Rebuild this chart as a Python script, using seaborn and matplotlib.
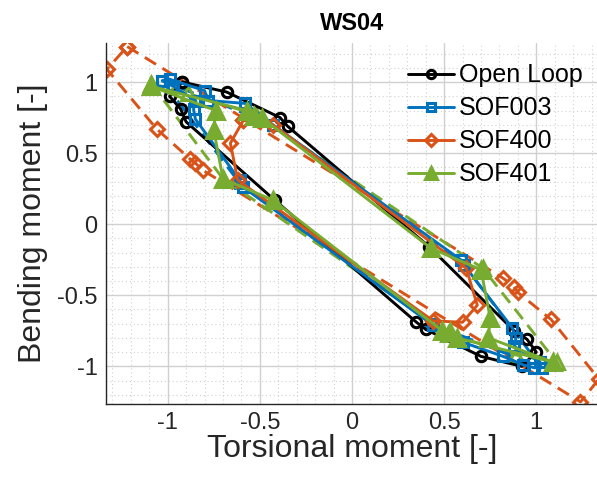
import numpy as np
import pandas as pd
import matplotlib
matplotlib.use("Agg")
import matplotlib.pyplot as plt
import seaborn as sns
from matplotlib.ticker import MultipleLocator

# ---------------- data ----------------
# Open Loop (black, solid, circles)
OL_X = [-0.92, -0.68, -0.39, -0.35, 0.42, 0.88, 0.95, 1.00, 0.92, 0.70, 0.40, 0.35, -0.42, -0.90, -0.93, -0.99, -0.92]
OL_Y = [1.00, 0.93, 0.75, 0.69, -0.16, -0.75, -0.81, -0.90, -1.00, -0.93, -0.74, -0.69, 0.17, 0.72, 0.81, 0.90, 1.00]

# SOF003 (blue, solid, squares)
B_X = [-0.99, -0.80, -0.78, -0.58, -0.43, 0.59, 0.61, 0.87, 0.89, 0.88, 1.02, 0.99, 0.93, 0.82, 0.60, 0.44,
       -0.59, -0.61, -0.85, -0.86, -0.85, -0.97, -1.03, -0.99]
B_Y = [1.02, 0.94, 0.87, 0.85, 0.70, -0.25, -0.29, -0.73, -0.80, -0.86, -0.97, -1.01, -0.99, -0.93, -0.83, -0.71,
       0.26, 0.31, 0.74, 0.81, 0.87, 0.97, 1.01, 1.02]
# SOF003 dashed
BD_X = [-1.03, -0.43, 0.61, 1.03, 0.43, -0.61, -1.03]
BD_Y = [1.01, 0.70, -0.29, -1.01, -0.70, 0.29, 1.01]

# SOF400 (orange, solid, diamonds)
O_X = [-0.59, -0.43, 0.62, 0.68, 0.60, 0.44, -0.62, -0.66, -0.59]
O_Y = [0.73, 0.70, -0.31, -0.57, -0.69, -0.68, 0.31, 0.57, 0.73]
# SOF400 dashed
OD_X = [-1.22, 0.82, 0.88, 0.90, 1.08, 1.34, 1.24, -0.81, -0.85, -0.88, -1.06, -1.33, -1.22]
OD_Y = [1.25, -0.38, -0.44, -0.48, -0.67, -1.09, -1.25, 0.38, 0.43, 0.46, 0.67, 1.09, 1.25]

# SOF401 (green, solid, triangles)
G_X = [-1.09, -0.57, -0.53, -0.49, 0.43, 0.70, 0.75, 0.74, 1.09, 0.57, 0.53, 0.49, -0.43, -0.70, -0.75, -0.74, -1.09]
G_Y = [0.97, 0.80, 0.76, 0.75, -0.17, -0.32, -0.66, -0.80, -0.97, -0.80, -0.76, -0.75, 0.17, 0.32, 0.66, 0.80, 0.97]
# SOF401 dashed
GD_X = [-1.09, -0.89, -0.52, 0.71, 1.11, 0.89, 0.52, -0.70, -1.09]
GD_Y = [0.99, 0.92, 0.77, -0.31, -0.97, -0.92, -0.77, 0.32, 0.99]

LABELS = ["Open Loop", "SOF003", "SOF400", "SOF401"]
TITLE = "WS04"
XLABEL = "Torsional moment [-]"
YLABEL = "Bending moment [-]"

# ---------------- style ----------------
sns.set_theme(style="white")
plt.rcParams["font.family"] = ["Liberation Sans", "DejaVu Sans"]
plt.rcParams["axes.unicode_minus"] = False

C_K = "#000000"
C_B = "#0072BD"
C_O = "#D95319"
C_G = "#77AC30"

fig = plt.figure(figsize=(5.97, 4.88), dpi=100)
ax = fig.add_axes([106 / 597, 84 / 488, 492 / 597, 361 / 488])

LW = 2.1
MEW = 2.2
DASH = (4.5, 2.6)

def dashed(x, y, color, marker, ms):
    sns.lineplot(x=x, y=y, sort=False, estimator=None, ax=ax, color=color, lw=LW,
                 marker=marker, markersize=ms, markerfacecolor="none",
                 markeredgecolor=color, markeredgewidth=MEW, legend=False)
    ax.lines[-1].set_dashes(DASH)

def solid(x, y, color, marker, ms, label, filled=False):
    sns.lineplot(x=x, y=y, sort=False, estimator=None, ax=ax, color=color, lw=LW,
                 marker=marker, markersize=ms,
                 markerfacecolor=(color if filled else "none"),
                 markeredgecolor=color, markeredgewidth=MEW, legend=False)
    ln = ax.lines[-1]
    ln.set_label(label)
    return ln

dashed(BD_X, BD_Y, C_B, "s", 7.5)
dashed(OD_X, OD_Y, C_O, "D", 7.5)
dashed(GD_X, GD_Y, C_G, "^", 10)

h1 = solid(OL_X, OL_Y, C_K, "o", 7.5, LABELS[0])
h2 = solid(B_X, B_Y, C_B, "s", 7.5, LABELS[1])
h3 = solid(O_X, O_Y, C_O, "D", 7.5, LABELS[2])
h4 = solid(G_X, G_Y, C_G, "^", 11, LABELS[3], filled=True)

ax.set_xlim(-1.335, 1.335)
ax.set_ylim(-1.265, 1.275)
ax.xaxis.set_minor_locator(MultipleLocator(0.1))
ax.yaxis.set_minor_locator(MultipleLocator(0.1))
ax.set_xticks([-1, -0.5, 0, 0.5, 1])
ax.set_xticklabels(["-1", "-0.5", "0", "0.5", "1"])
ax.set_yticks([-1, -0.5, 0, 0.5, 1])
ax.set_yticklabels(["-1", "-0.5", "0", "0.5", "1"])

ax.grid(True, which="major", color="#d0d0d0", lw=1.0)
ax.grid(True, which="minor", color="#d2d2d2", lw=0.8, ls=(0, (1, 2.5)))
ax.set_axisbelow(True)

for s in ["top", "right"]:
    ax.spines[s].set_visible(False)
for s in ["left", "bottom"]:
    ax.spines[s].set_color("#262626")
    ax.spines[s].set_linewidth(1.0)

ax.tick_params(which="major", direction="in", length=5, width=1.0, colors="#262626",
               labelsize=17, labelcolor="#262626", pad=6)
ax.tick_params(which="minor", length=0)

ax.set_xlabel(XLABEL, fontsize=23, color="#262626", labelpad=0)
ax.set_ylabel(YLABEL, fontsize=23, color="#262626", labelpad=0)
ax.yaxis.set_label_coords(-0.118, 0.5)
ax.set_title(TITLE, fontsize=17, fontweight="bold", color="#000000", pad=9)

leg = ax.legend(handles=[h1, h2, h3, h4], loc="upper right", bbox_to_anchor=(1.0, 0.985),
                frameon=False, fontsize=18, handlelength=1.85, handletextpad=0.2,
                labelspacing=0.36, borderaxespad=0.2, markerscale=0.8)
for t in leg.get_texts():
    t.set_color("#000000")

fig.savefig("out.png", dpi=100)
